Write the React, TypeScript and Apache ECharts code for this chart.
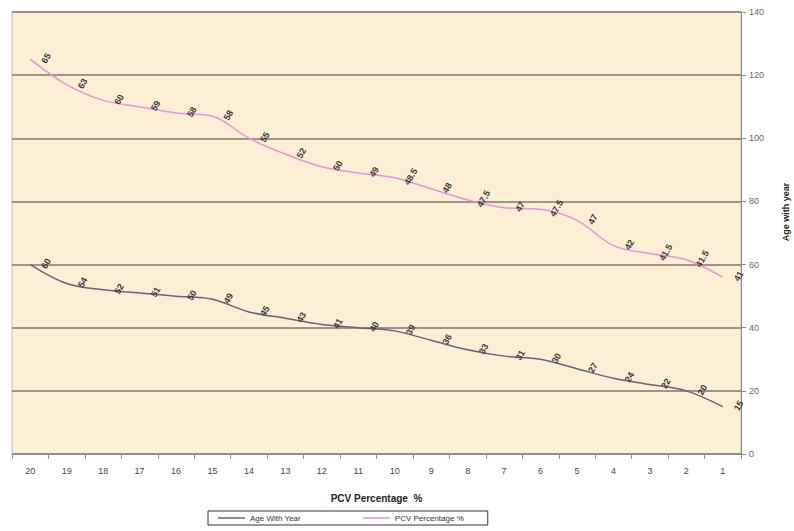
import React, { useEffect, useRef } from "react";
import * as echarts from "echarts";

const categories = ["20", "19", "18", "17", "16", "15", "14", "13", "12", "11", "10", "9", "8", "7", "6", "5", "4", "3", "2", "1"];
const ageValues = [60, 54, 52, 51, 50, 49, 45, 43, 41, 40, 39, 36, 33, 31, 30, 27, 24, 22, 20, 15];
const pcvValues = [65, 63, 60, 59, 58, 58, 55, 52, 50, 49, 48.5, 48, 47.5, 47, 47.5, 47, 42, 41.5, 41.5, 41];
const yMin = 0;
const yMax = 140;
const yInterval = 20;

const FONT = "Liberation Sans, Arial, sans-serif";
const AGE_COLOR = "#6b5f84";
const PCV_COLOR = "#e892d8";

export default function App() {
  const ref = useRef<HTMLDivElement>(null);
  useEffect(() => {
    document.body.style.margin = "0";
    const chart = echarts.init(ref.current!, null, { renderer: "svg" });
    const label = {
      show: true,
      position: [17, 0],
      align: "center",
      verticalAlign: "middle",
      rotate: 60,
      fontSize: 9,
      fontWeight: "bold",
      fontFamily: FONT,
      color: "#3a3a3a",
    };
    chart.setOption({
      animation: false,
      backgroundColor: "#ffffff",
      textStyle: { fontFamily: FONT },
      grid: {
        left: 12,
        right: 53,
        top: 12,
        bottom: 77,
        show: true,
        backgroundColor: "#fcefd5",
        borderColor: "#c4beb4",
        borderWidth: 1,
      },
      xAxis: {
        type: "category",
        data: categories,
        boundaryGap: true,
        name: "PCV Percentage  %",
        nameLocation: "middle",
        nameGap: 39,
        nameTextStyle: { fontSize: 10, fontWeight: "bold", color: "#222", fontFamily: FONT },
        axisLine: { lineStyle: { color: "#8a8a8a", width: 1 } },
        axisTick: { show: true, length: 5, lineStyle: { color: "#8a8a8a" } },
        axisLabel: { interval: 0, fontSize: 9, color: "#444", margin: 12, fontFamily: FONT },
        splitLine: { show: false },
      },
      yAxis: {
        type: "value",
        position: "right",
        min: yMin,
        max: yMax,
        interval: yInterval,
        axisLine: { show: true, lineStyle: { color: "#8a8a8a", width: 1 } },
        axisTick: { show: true, length: 5, lineStyle: { color: "#8a8a8a" } },
        axisLabel: { fontSize: 9, color: "#666", margin: 8, fontFamily: FONT },
        splitLine: { show: true, lineStyle: { color: "#7f796a", width: 1.6 } },
      },
      legend: {
        left: 208,
        top: 511,
        orient: "horizontal",
        borderColor: "#333",
        borderWidth: 1,
        borderRadius: 0,
        padding: [3, 24, 3, 10],
        itemGap: 62,
        itemWidth: 27,
        itemHeight: 1.5,
        icon: "rect",
        textStyle: { fontSize: 8, color: "#333", fontFamily: FONT },
        data: [
          { name: "Age With Year", itemStyle: { color: AGE_COLOR } },
          { name: "PCV Percentage %", itemStyle: { color: PCV_COLOR } },
        ],
      },
      graphic: [
        {
          type: "text",
          x: 786,
          y: 212,
          rotation: Math.PI / 2,
          style: {
            text: "Age with year",
            fontSize: 9,
            fontWeight: "bold",
            fontFamily: FONT,
            fill: "#222",
            align: "center",
            verticalAlign: "middle",
          },
        },
      ],
      series: [
        {
          name: "Age With Year",
          type: "line",
          stack: "total",
          data: ageValues,
          smooth: 0.35,
          symbol: "circle",
          symbolSize: 2,
          showSymbol: true,
          itemStyle: { color: "rgba(0,0,0,0)" },
          lineStyle: { color: AGE_COLOR, width: 1.5 },
          label,
        },
        {
          name: "PCV Percentage %",
          type: "line",
          stack: "total",
          data: pcvValues,
          smooth: 0.35,
          symbol: "circle",
          symbolSize: 2,
          showSymbol: true,
          itemStyle: { color: "rgba(0,0,0,0)" },
          lineStyle: { color: PCV_COLOR, width: 1.5 },
          label,
        },
      ],
    });
    return () => chart.dispose();
  }, []);
  return <div ref={ref} style={{ width: 794, height: 531 }} />;
}
